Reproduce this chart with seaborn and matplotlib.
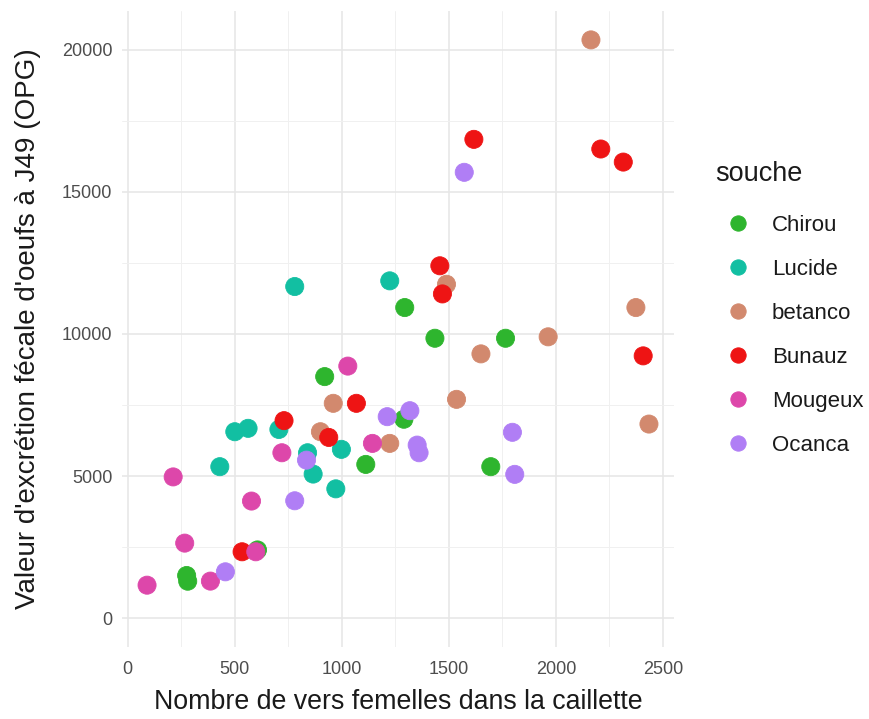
import matplotlib
matplotlib.use("Agg")
import matplotlib.pyplot as plt
import seaborn as sns
import pandas as pd
from matplotlib.ticker import MultipleLocator

# ---- data ----
chirou_x = [275, 280, 606, 920, 1112, 1294, 1290, 1435, 1765, 1696]
chirou_y = [1500, 1300, 2400, 8500, 5410, 10930, 7000, 9850, 9850, 5330]

lucide_x = [430, 500, 562, 706, 780, 840, 866, 972, 998, 1224]
lucide_y = [5330, 6560, 6680, 6640, 11670, 5820, 5070, 4550, 5940, 11870]

betanco_x = [900, 960, 1224, 1489, 1536, 1650, 1964, 2164, 2374, 2435]
betanco_y = [6560, 7560, 6150, 11750, 7700, 9300, 9900, 20350, 10930, 6830]

bunauz_x = [534, 730, 939, 1068, 1458, 1470, 1617, 2210, 2315, 2408]
bunauz_y = [2335, 6950, 6360, 7560, 12400, 11410, 16850, 16510, 16050, 9230]

mougeux_x = [90, 212, 266, 386, 578, 598, 720, 1028, 1143]
mougeux_y = [1160, 4970, 2640, 1303, 4120, 2335, 5820, 8870, 6150]

ocanca_x = [456, 780, 835, 1212, 1318, 1352, 1361, 1572, 1797, 1808]
ocanca_y = [1630, 4130, 5560, 7090, 7300, 6090, 5820, 15690, 6540, 5060]

souches = ["Chirou", "Lucide", "betanco", "Bunauz", "Mougeux", "Ocanca"]
couleurs = ["#2EB52E", "#12BFA2", "#D2896E", "#EE1414", "#DD47AA", "#B07EF5"]

xs = [chirou_x, lucide_x, betanco_x, bunauz_x, mougeux_x, ocanca_x]
ys = [chirou_y, lucide_y, betanco_y, bunauz_y, mougeux_y, ocanca_y]

rows = []
for s, xx, yy in zip(souches, xs, ys):
    for a, b in zip(xx, yy):
        rows.append({"vers": a, "opg": b, "souche": s})
df = pd.DataFrame(rows)

sns.set_theme(style="white")
plt.rcParams['font.family'] = ['Liberation Sans', 'DejaVu Sans']

fig = plt.figure(figsize=(8.69, 7.19), dpi=100)
ax = fig.add_axes([0.1404, 0.1001, 0.7756 - 0.1404, 0.9847 - 0.1001])

sns.scatterplot(data=df, x="vers", y="opg", hue="souche", hue_order=souches,
                palette=couleurs, s=170, linewidth=0.6, edgecolor=None,
                ax=ax, zorder=3)
for coll in ax.collections:
    coll.set_edgecolor(coll.get_facecolor())

ax.set_xlim(-27, 2552)
ax.set_ylim(-1017, 21367)
ax.xaxis.set_major_locator(MultipleLocator(500))
ax.xaxis.set_minor_locator(MultipleLocator(250))
ax.yaxis.set_major_locator(MultipleLocator(5000))
ax.yaxis.set_minor_locator(MultipleLocator(2500))
ax.grid(which="major", color="#E6E6E6", linewidth=1.1, zorder=0)
ax.grid(which="minor", color="#F0F0F0", linewidth=0.7, zorder=0)
ax.set_axisbelow(True)
for sp in ax.spines.values():
    sp.set_visible(False)
ax.tick_params(which="both", length=0, labelsize=13, labelcolor="#4D4D4D")
ax.tick_params(axis="x", pad=10)
ax.tick_params(axis="y", pad=7)

ax.set_xlabel("Nombre de vers femelles dans la caillette", fontsize=19.3, color="#1A1A1A", labelpad=8)
ax.set_ylabel("Valeur d'excrétion fécale d'oeufs à J49 (OPG)", fontsize=20, color="#1A1A1A", labelpad=15)

handles, labels = ax.get_legend_handles_labels()
ax.legend_.remove()
leg = fig.legend(handles, labels, title="souche", loc="upper left",
                 bbox_to_anchor=(0.813, 0.789), frameon=False,
                 fontsize=16, title_fontsize=19.5, labelspacing=1.04,
                 handletextpad=0.55, markerscale=0.85, borderaxespad=0)
leg._legend_box.align = "left"
leg._legend_box.sep += 3.6
for t in leg.get_texts():
    t.set_color("#1A1A1A")
leg.get_title().set_color("#1A1A1A")

fig.savefig("out.png", dpi=100)
